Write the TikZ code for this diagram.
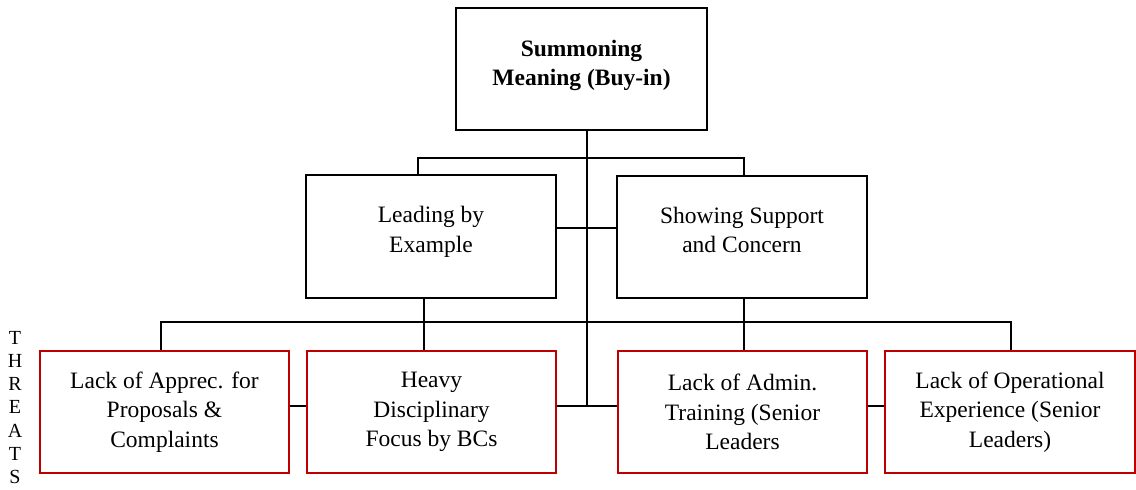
\documentclass[tikz,border=0pt]{standalone}
\usepackage{fontspec}
\setmainfont{Liberation Serif}
\definecolor{threatred}{HTML}{C00000}
\begin{document}
\begin{tikzpicture}[x=1pt,y=-1pt,
  box/.style={draw=black,line width=2pt,minimum width=#1,minimum height=122pt,
    inner sep=0pt,align=center,font=\fontsize{23.5}{29.5}\selectfont},
  box/.default=250pt,
  threat/.style={box=249pt,draw=threatred},
  link/.style={draw=black,line width=2pt},
  letter/.style={font=\fontsize{20}{21}\selectfont,inner sep=0pt,anchor=base}]
\useasboundingbox (0,0) rectangle (1136,490);
\fill[white] (0,0) rectangle (1136,490);

% goal, strategies and threats
\node[box=251pt] (top) at (581.5,69) {\textbf{Summoning}\\\textbf{Meaning (Buy-in)}\\[-17pt]\mbox{}};
\node[box,minimum height=123pt] (lead) at (431,236.5) {Leading by\\Example\\[-15pt]\mbox{}};
\node[box] (supp) at (742,237) {Showing Support\\and Concern\\[-15pt]\mbox{}};
\node[threat] (t1) at (164.5,412) {Lack of Apprec. for\\Proposals \&\\Complaints};
\node[threat] (t2) at (431.5,412) {Heavy\\Disciplinary\\Focus by BCs};
\node[threat] (t3) at (742.5,412) {Lack of Admin.\\Training (Senior\\Leaders};
\node[threat,minimum width=250pt] (t4) at (1010,412) {Lack of Operational\\Experience (Senior\\Leaders)};

% vertical side label
\foreach \c [count=\i] in {T,H,R,E,A,T,S}
  \node[letter] (lbl\i) at (15,{344+23.3*(\i-1)}) {\c};

% junction points
\coordinate (spine) at (587,0);
\coordinate (busA) at (0,158);
\coordinate (busB) at (0,322);
\coordinate (mid) at (0,406);
\coordinate (leadDrop) at (418,0);
\coordinate (suppDrop) at (744,0);
\coordinate (leadDown) at (424,0);
\coordinate (t1Drop) at (161,0);
\coordinate (t4Drop) at (1011,0);

% connectors
\draw[link] (top.south -| spine) -- (mid -| spine);
\draw[link] (lead.north -| leadDrop) -- (busA -| leadDrop) -- (busA -| suppDrop) -- (supp.north -| suppDrop);
\draw[link] (lead.east |- 0,228) -- (supp.west |- 0,228);
\draw[link] (lead.south -| leadDown) -- (t2.north -| leadDown);
\draw[link] (supp.south -| suppDrop) -- (t3.north -| suppDrop);
\draw[link] (t1.north -| t1Drop) -- (busB -| t1Drop) -- (busB -| t4Drop) -- (t4.north -| t4Drop);
\draw[link] (t1.east |- mid) -- (t2.west |- mid);
\draw[link] (t2.east |- mid) -- (t3.west |- mid);
\draw[link] (t3.east |- mid) -- (t4.west |- mid);
\end{tikzpicture}
\end{document}
